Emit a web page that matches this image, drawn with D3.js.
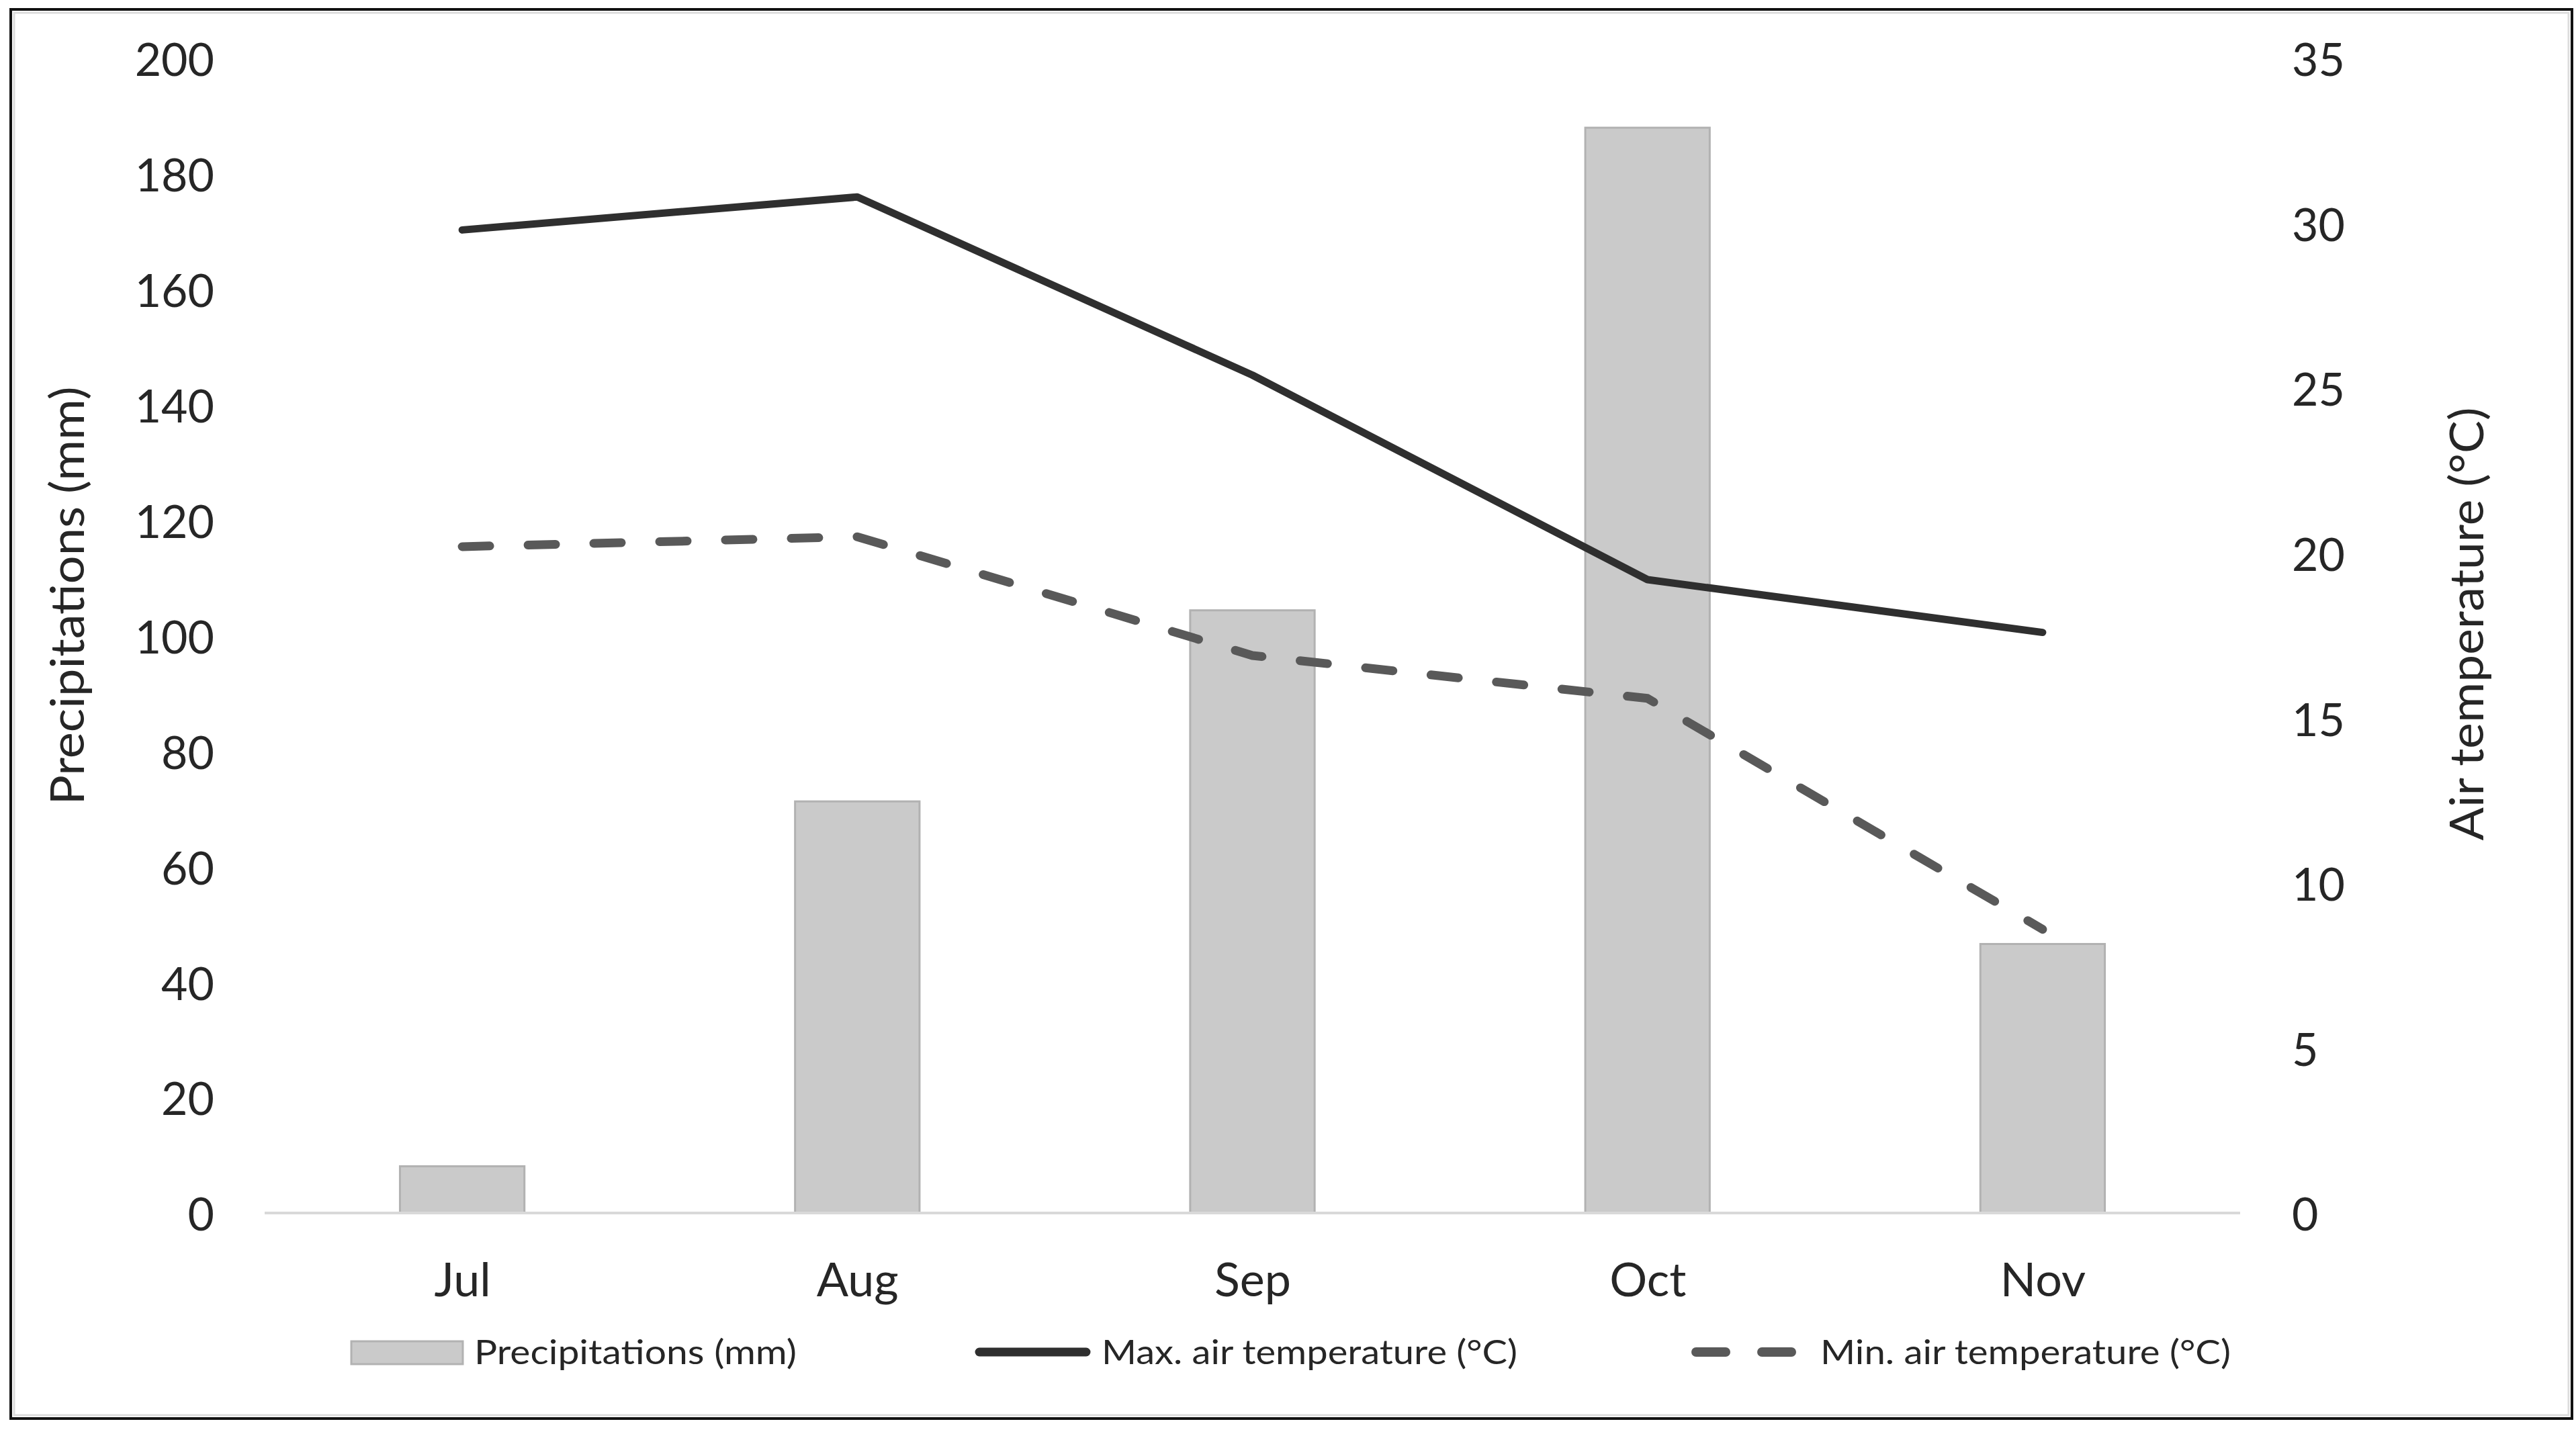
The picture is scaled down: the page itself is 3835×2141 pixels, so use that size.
<!DOCTYPE html>
<html>
<head>
<meta charset="utf-8">
<script src="https://cdn.jsdelivr.net/npm/d3@7"></script>
<style>
  html, body { margin: 0; padding: 0; background: #fff; }
  svg { display: block; }
  text { font-family: Lato, "Open Sans", sans-serif; fill: #262626; }
</style>
</head>
<body>
<svg id="chart" width="3835" height="2141"></svg>
<script>
// ---- data ----
const months = ["Jul", "Aug", "Sep", "Oct", "Nov"];
const precipitation = [8.1, 71.3, 104.4, 188.0, 46.6];
const maxTemp = [29.8, 30.8, 25.4, 19.2, 17.6];
const minTemp = [20.2, 20.5, 16.9, 15.6, 8.6];
const precipTicks = [0, 20, 40, 60, 80, 100, 120, 140, 160, 180, 200];
const tempTicks = [0, 5, 10, 15, 20, 25, 30, 35];
const legendLabels = ["Precipitations (mm)", "Max. air temperature (°C)", "Min. air temperature (°C)"];
const leftTitle = "Precipitations (mm)";
const rightTitle = "Air temperature (°C)";

const svg = d3.select("#chart");

// frame
svg.append("rect").attr("x", 16).attr("y", 14).attr("width", 3813).attr("height", 2098)
  .attr("fill", "#fff").attr("stroke", "#111").attr("stroke-width", 4);
svg.append("rect").attr("x", 21).attr("y", 19).attr("width", 3803).attr("height", 2088)
  .attr("fill", "none").attr("stroke", "#dcdcdc").attr("stroke-width", 3);

const plotL = 394, plotR = 3335, plotT = 87, plotB = 1806;

const x = d3.scalePoint().domain(months).range([plotL, plotR]).padding(0.5);
const step = x.step();
const barW = step * 0.315;
const yL = d3.scaleLinear().domain([0, 200]).range([plotB, plotT]);
const yR = d3.scaleLinear().domain([0, 35]).range([plotB, plotT]);

// bars
svg.append("g").selectAll("rect").data(months).join("rect")
  .attr("x", d => x(d) - barW / 2)
  .attr("y", (d, i) => yL(precipitation[i]))
  .attr("width", barW)
  .attr("height", (d, i) => plotB - yL(precipitation[i]))
  .attr("fill", "#cacaca").attr("stroke", "#b2b2b2").attr("stroke-width", 3);

// baseline
svg.append("line").attr("x1", plotL).attr("x2", plotR).attr("y1", plotB).attr("y2", plotB)
  .attr("stroke", "#d9d9d9").attr("stroke-width", 4);

// left axis
const axL = svg.append("g").attr("transform", `translate(319,0)`)
  .call(d3.axisLeft(yL).tickValues(precipTicks).tickSize(0).tickPadding(0));
axL.select(".domain").remove();
axL.selectAll("text").style("font-family", "Lato, sans-serif").attr("font-size", 68)
  .attr("fill", "#262626").attr("dy", "0.38em");

// right axis
const axR = svg.append("g").attr("transform", `translate(3412,0)`)
  .call(d3.axisRight(yR).tickValues(tempTicks).tickSize(0).tickPadding(0));
axR.select(".domain").remove();
axR.selectAll("text").style("font-family", "Lato, sans-serif").attr("font-size", 68)
  .attr("fill", "#262626").attr("dy", "0.38em");

// x axis labels
const axX = svg.append("g").attr("transform", `translate(0,1880)`)
  .call(d3.axisBottom(x).tickSize(0).tickPadding(0));
axX.select(".domain").remove();
axX.selectAll("text").style("font-family", "Lato, sans-serif").attr("font-size", 70).attr("fill", "#262626")
  .attr("dy", "0.35em").attr("y", 25);

// axis titles
svg.append("text").attr("transform", "translate(100,887) rotate(-90)")
  .attr("text-anchor", "middle").attr("dy", "0.35em").attr("font-size", 70)
  .attr("textLength", 623).attr("lengthAdjust", "spacingAndGlyphs").text(leftTitle);
svg.append("text").attr("transform", "translate(3672,929) rotate(-90)")
  .attr("text-anchor", "middle").attr("dy", "0.35em").attr("font-size", 70)
  .attr("textLength", 645).attr("lengthAdjust", "spacingAndGlyphs").text(rightTitle);

// lines
const line = d3.line().x(d => x(d[0])).y(d => yR(d[1]));
svg.append("path").datum(months.map((m, i) => [m, maxTemp[i]]))
  .attr("d", line).attr("fill", "none").attr("stroke", "#2f2f2f").attr("stroke-width", 11)
  .attr("stroke-linecap", "round").attr("stroke-linejoin", "round");
svg.append("path").datum(months.map((m, i) => [m, minTemp[i]]))
  .attr("d", line).attr("fill", "none").attr("stroke", "#595959").attr("stroke-width", 13)
  .attr("stroke-dasharray", "41,57").attr("stroke-linecap", "round").attr("stroke-linejoin", "round");

// legend
const ly = 2013;
const lg = svg.append("g");
lg.append("rect").attr("x", 523).attr("y", 1997).attr("width", 166).attr("height", 34)
  .attr("fill", "#cacaca").attr("stroke", "#b2b2b2").attr("stroke-width", 3);
lg.append("line").attr("x1", 1458).attr("x2", 1617).attr("y1", ly).attr("y2", ly)
  .attr("stroke", "#2f2f2f").attr("stroke-width", 13).attr("stroke-linecap", "round");
lg.append("line").attr("x1", 2525).attr("x2", 2667).attr("y1", ly).attr("y2", ly)
  .attr("stroke", "#595959").attr("stroke-width", 14).attr("stroke-linecap", "round")
  .attr("stroke-dasharray", "44,54");
const legX = [706, 1640, 2710];
const legW = [480, 619, 611];
lg.selectAll("text.leg").data(legendLabels).join("text").attr("class", "leg")
  .attr("x", (d, i) => legX[i]).attr("y", ly).attr("dy", "0.35em")
  .attr("font-size", 50)
  .attr("textLength", (d, i) => legW[i]).attr("lengthAdjust", "spacingAndGlyphs")
  .text(d => d);
</script>
</body>
</html>
